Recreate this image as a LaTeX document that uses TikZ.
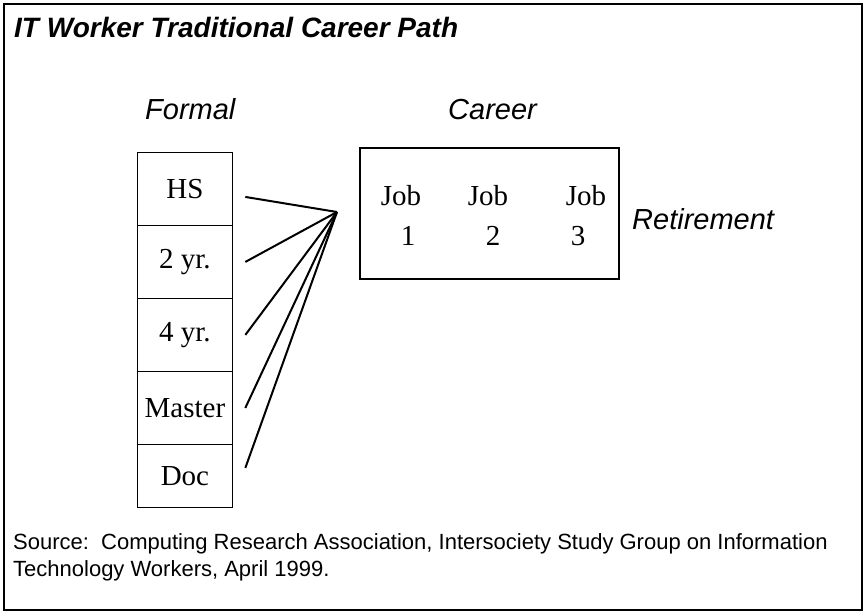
\documentclass[tikz,border=0pt]{standalone}
\usepackage{fontspec}
\setmainfont{Liberation Serif}
\newfontfamily\labelfont{Liberation Sans}
\usetikzlibrary{matrix,positioning}

\begin{document}
\begin{tikzpicture}[x=1pt, y=-1pt,
  headtext/.style={font=\labelfont\itshape\fontsize{29}{34}\selectfont, inner sep=0pt, anchor=base west},
  jobtext/.style={font=\fontsize{29}{34}\selectfont, inner sep=0pt, anchor=base},
  link/.style={line width=2pt}]
  \useasboundingbox (0,0) rectangle (865,613);
  \draw[line width=2.4pt] (4,4) rectangle (862,610);
  \node[anchor=base west, inner sep=0pt, font=\labelfont\bfseries\itshape\fontsize{28}{28}\selectfont] (title) at (14,37) {IT Worker Traditional Career Path};
  \node[headtext] (formal) at (145,119) {Formal};
  \node[headtext] (career) at (448,119) {Career};
  % education column
  \matrix (E) [matrix of nodes, anchor=north west, row sep=-1.8pt, nodes={draw, line width=1.8pt, minimum width=95pt, minimum height=73pt, font=\fontsize{29}{34}\selectfont}] at (133,148)
    {HS \\ 2 yr. \\ 4 yr. \\ Master \\ |[minimum height=63pt]| Doc \\};
  \coordinate (meet) at (337,212);
  \foreach \r/\s in {1/-8,2/0,3/0,4/0,5/8}
    \draw[link] ([xshift=12pt, yshift=\s pt]E-\r-1.east) -- (meet);
  % career box
  \node[draw, line width=1.8pt, minimum width=259pt, minimum height=131pt, anchor=north west, inner sep=0pt] (jobs) at (359,147) {};
  \foreach \i/\jx/\nx in {1/401/408, 2/488/493, 3/586/578} {
    \node[jobtext] (job\i) at (\jx,205) {Job};
    \node[jobtext] (num\i) at (\nx,245) {\i};
  }
  \node[headtext] (retire) at (632,229) {Retirement};
  \node[anchor=north west, inner sep=0pt, align=left, font=\labelfont\fontsize{22}{27}\selectfont] (source) at (13,533)
    {Source:\ \ Computing Research Association, Intersociety Study Group on Information\\Technology Workers, April 1999.};
\end{tikzpicture}
\end{document}
